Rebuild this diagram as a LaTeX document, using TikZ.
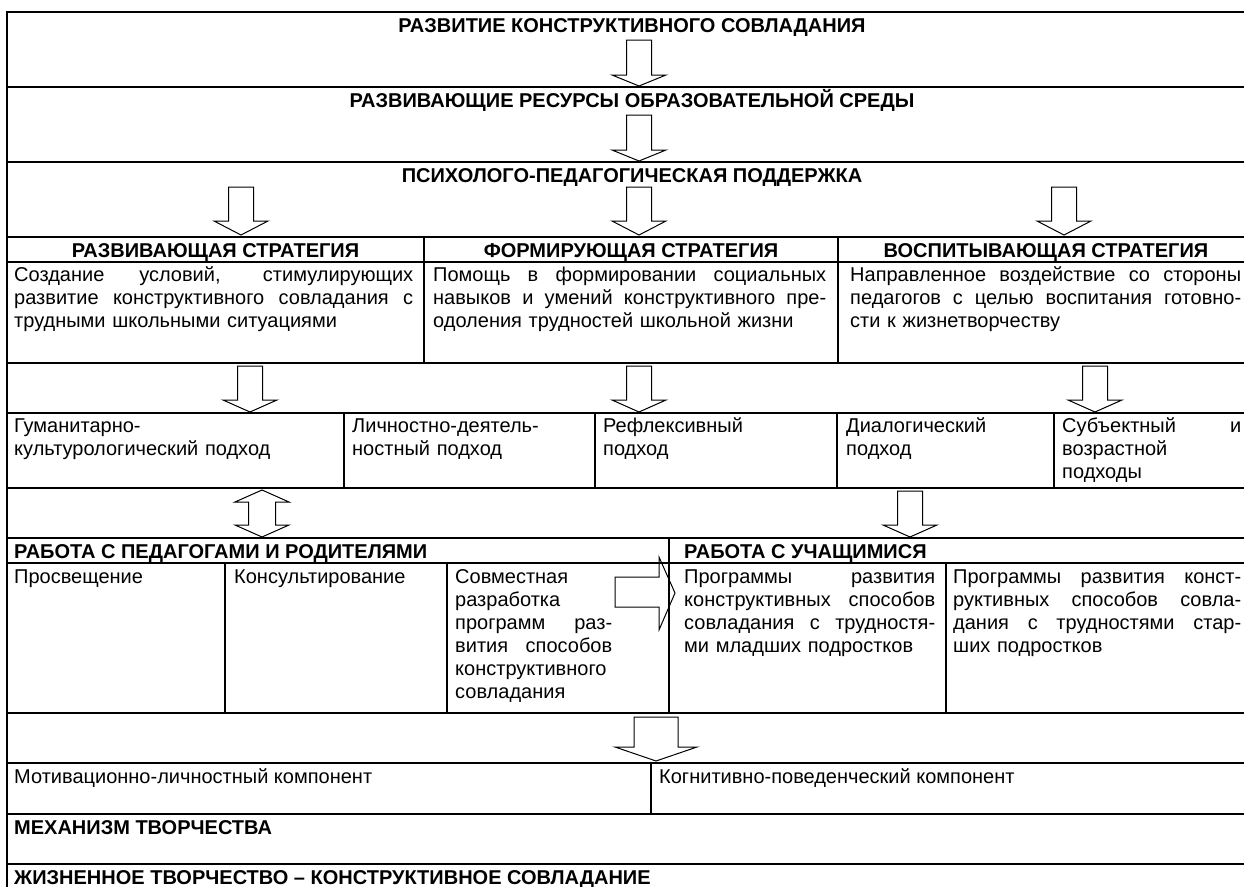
\documentclass[tikz,border=0pt]{standalone}
\usepackage{fontspec}
\setmainfont{Liberation Sans}
\newcommand{\jline}[1]{\leavevmode\hbox to \hsize{\spaceskip=0.28em plus 20em\relax #1}\\}
\newcommand{\darrow}[6]{% cx, top, base, tip, shaft half, head half
  \draw[barrow] ({#1-#5},#2) -- ({#1+#5},#2) -- ({#1+#5},#3) -- ({#1+#6},#3) -- (#1,#4) -- ({#1-#6},#3) -- ({#1-#5},#3) -- cycle;}
\begin{document}
\begin{tikzpicture}[x=1pt,y=-1pt,
  hline/.style={line width=2pt},
  vline/.style={line width=1.5pt},
  barrow/.style={draw, fill=white, line width=1pt, line join=miter},
  txt/.style={inner sep=0pt, anchor=base west, font=\fontsize{20}{23}\selectfont},
  btxt/.style={inner sep=0pt, anchor=base west, font=\fontsize{20}{23}\selectfont\bfseries},
  ptxt/.style={inner sep=0pt, anchor=base west, align=left, font=\fontsize{20}{23}\selectfont}
]
\useasboundingbox (0,0) rectangle (1244,886);
\fill[white] (0,0) rectangle (1244,886);

% ---- arrows (drawn first, lines on top)
\darrow{639}{40}{75}{86}{12.5}{27}
\darrow{639}{115}{150}{161}{12.5}{27}
\darrow{241}{187}{221}{235}{12.5}{27}
\darrow{639}{187}{221}{235}{12.5}{27}
\darrow{1064}{187}{221}{235}{12.5}{27}
\darrow{250}{366}{400}{412}{12.5}{27}
\darrow{639}{366}{400}{412}{12.5}{27}
\darrow{1095}{366}{400}{412}{12.5}{27}
\darrow{910}{491}{525}{537}{12.5}{27}
\darrow{656}{717}{747}{761}{22}{41}
% double arrow
\draw[barrow] (262,490) -- (289,502) -- (275.5,502) -- (275.5,525) -- (289,525) -- (262,537) -- (235,525) -- (248.5,525) -- (248.5,502) -- (235,502) -- cycle;
% right arrow
\draw[barrow] (615,577) -- (659,577) -- (659,557) -- (675,593) -- (659,630) -- (659,607) -- (615,607) -- cycle;

% ---- table lines
\foreach \y in {12,87,162,237,262,363,413,488,538,563,713,763,814,864}
  \draw[hline] (6,\y) -- (1258,\y);
\draw[hline] (7,11) -- (7,890);
\draw[hline] (1256,11) -- (1256,890);
\foreach \x in {424,838} \draw[vline] (\x,237) -- (\x,363);
\foreach \x in {344,595,837,1054} \draw[vline] (\x,413) -- (\x,488);
\draw[vline] (669,538) -- (669,713);
\foreach \x in {225,447,946} \draw[vline] (\x,563) -- (\x,713);
\draw[vline] (651,763) -- (651,814);

% ---- titles
\node[btxt, anchor=base] (t1) at (632,32) {РАЗВИТИЕ КОНСТРУКТИВНОГО СОВЛАДАНИЯ};
\node[btxt, anchor=base] (t2) at (632,107) {РАЗВИВАЮЩИЕ РЕСУРСЫ ОБРАЗОВАТЕЛЬНОЙ СРЕДЫ};
\node[btxt, anchor=base] (t3) at (632,182) {ПСИХОЛОГО-ПЕДАГОГИЧЕСКАЯ ПОДДЕРЖКА};

% ---- strategies
\node[btxt, anchor=base] (s1) at (215.5,257) {РАЗВИВАЮЩАЯ СТРАТЕГИЯ};
\node[btxt, anchor=base] (s2) at (631,257) {ФОРМИРУЮЩАЯ СТРАТЕГИЯ};
\node[btxt, anchor=base] (s3) at (1046,257) {ВОСПИТЫВАЮЩАЯ СТРАТЕГИЯ};

\node[ptxt, text width=399pt] (d1) at (14,281) {\jline{Создание условий, стимулирующих}\jline{развитие конструктивного совладания с}трудными школьными ситуациями};
\node[ptxt, text width=393pt] (d2) at (433,281) {\jline{Помощь в формировании социальных}\jline{навыков и умений конструктивного пре-}одоления трудностей школьной жизни};
\node[ptxt, text width=391pt] (d3) at (850,281) {\jline{Направленное воздействие со стороны}\jline{педагогов с целью воспитания готовно-}сти к жизнетворчеству};

% ---- approaches
\node[ptxt, text width=325pt] (a1) at (14,432) {Гуманитарно-\\культурологический подход};
\node[ptxt, text width=235pt] (a2) at (352,432) {Личностно-деятель-\\ностный подход};
\node[ptxt, text width=230pt] (a3) at (603,432) {Рефлексивный\\подход};
\node[ptxt, text width=200pt] (a4) at (846,432) {Диалогический\\подход};
\node[ptxt, text width=179pt] (a5) at (1062,432) {\jline{Субъектный и}возрастной\\подходы};

% ---- work
\node[btxt] (w1) at (14,558) {РАБОТА С ПЕДАГОГАМИ И РОДИТЕЛЯМИ};
\node[btxt] (w2) at (684,558) {РАБОТА С УЧАЩИМИСЯ};

\node[txt] (c1) at (14,583) {Просвещение};
\node[txt] (c2) at (234,583) {Консультирование};
\node[ptxt, text width=157pt] (c3) at (455,583) {Совместная\\разработка\\\jline{программ раз-}\jline{вития способов}конструктивного\\совладания};
\node[ptxt, text width=251pt] (c4) at (684,583) {\jline{Программы развития}\jline{конструктивных способов}\jline{совладания с трудностя-}ми младших подростков};
\node[ptxt, text width=288pt] (c5) at (953,583) {\jline{Программы развития конст-}\jline{руктивных способов совла-}\jline{дания с трудностями стар-}ших подростков};

% ---- components
\node[txt] (m1) at (14,783) {Мотивационно-личностный компонент};
\node[txt] (m2) at (659,783) {Когнитивно-поведенческий компонент};
\node[btxt] (mech) at (14,834) {МЕХАНИЗМ ТВОРЧЕСТВА};
\node[btxt] (life) at (14,884) {ЖИЗНЕННОЕ ТВОРЧЕСТВО – КОНСТРУКТИВНОЕ СОВЛАДАНИЕ};
\end{tikzpicture}
\end{document}
